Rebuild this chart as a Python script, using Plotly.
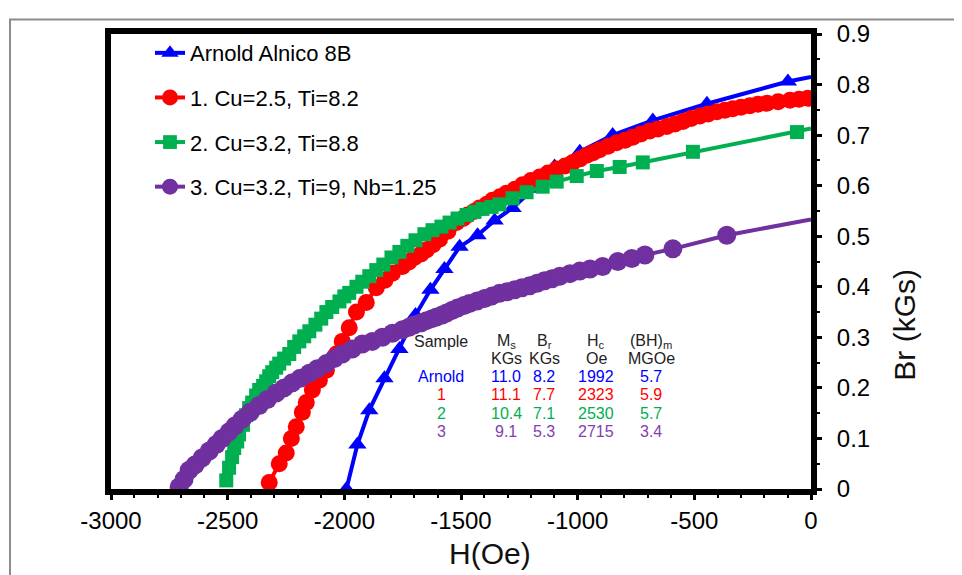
import plotly.graph_objects as go

# ---------------- data ----------------
arnold_h = [-1991, -1944, -1893, -1828, -1764, -1695, -1631, -1571, -1506, -1429, -1356, -1279,
            -1189, -1099, -991, -850, -678, -446, -99, 0]
arnold_br = [0.0, 0.088, 0.156, 0.219, 0.277, 0.344, 0.394, 0.435, 0.479, 0.502, 0.531, 0.556,
             0.594, 0.638, 0.667, 0.700, 0.729, 0.762, 0.806, 0.815]

s1_h = [-2322, -2279, -2249, -2227, -2206, -2180, -2163, -2137, -2107, -2077, -2034, -2009,
        -1979, -1948, -1906, -1863, -1826, -1794, -1751, -1723, -1700, -1671, -1648, -1620,
        -1592, -1556, -1519, -1491, -1472, -1444, -1421, -1389, -1365, -1333, -1305, -1269,
        -1236, -1200, -1163, -1127, -1090, -1054, -1021, -990, -961, -934, -906, -870, -833,
        -797, -764, -729, -691, -656, -618, -583, -549, -514, -476, -441, -403, -369, -335,
        -300, -262, -227, -189, -141, -90, -51, -13]
s1_br = [0.013, 0.050, 0.071, 0.100, 0.123, 0.152, 0.171, 0.196, 0.215, 0.235, 0.267, 0.292,
         0.319, 0.350, 0.369, 0.398, 0.413, 0.427, 0.440, 0.449, 0.458, 0.465, 0.473, 0.483,
         0.494, 0.510, 0.527, 0.535, 0.542, 0.549, 0.556, 0.563, 0.571, 0.578, 0.585, 0.593,
         0.602, 0.610, 0.617, 0.625, 0.633, 0.639, 0.646, 0.653, 0.660, 0.665, 0.671, 0.678, 0.685,
         0.690, 0.696, 0.702, 0.708, 0.712, 0.717, 0.722, 0.727, 0.733, 0.738, 0.742, 0.746, 0.749, 0.752,
         0.755, 0.758, 0.761, 0.763, 0.766, 0.769, 0.771, 0.773]

s2_h = [-2506, -2494, -2481, -2472, -2459, -2451, -2434, -2421, -2408, -2395, -2378, -2365,
        -2348, -2335, -2322, -2309, -2292, -2279, -2258, -2236, -2215, -2193, -2172, -2150,
        -2124, -2099, -2077, -2052, -2021, -2000, -1979, -1948, -1923, -1893, -1863, -1833,
        -1798, -1764, -1730, -1695, -1657, -1622, -1584, -1549, -1515, -1476, -1442, -1408,
        -1369, -1335, -1279, -1219, -1150, -1090, -1004, -918, -820, -721, -506, -60, 0]
s2_br = [0.017, 0.042, 0.063, 0.081, 0.094, 0.108, 0.127, 0.146, 0.160, 0.171, 0.185, 0.196,
         0.204, 0.213, 0.223, 0.231, 0.240, 0.248, 0.258, 0.267, 0.281, 0.292, 0.302, 0.312,
         0.325, 0.337, 0.350, 0.360, 0.371, 0.381, 0.388, 0.400, 0.410, 0.421, 0.433, 0.444,
         0.458, 0.469, 0.481, 0.492, 0.504, 0.512, 0.519, 0.527, 0.535, 0.542, 0.548, 0.554,
         0.558, 0.563, 0.575, 0.587, 0.598, 0.608, 0.619, 0.629, 0.637, 0.646, 0.667, 0.706, 0.713]

s3_h = [-2708, -2687, -2665, -2639, -2609, -2579, -2549, -2524, -2494, -2468, -2438, -2403,
        -2365, -2330, -2292, -2258, -2223, -2189, -2150, -2116, -2077, -2043, -2009, -1966,
        -1923, -1880, -1837, -1794, -1751, -1723, -1700, -1671, -1648, -1624, -1605, -1581,
        -1562, -1539, -1515, -1487, -1464, -1431, -1399, -1367, -1335, -1303, -1270, -1239,
        -1206, -1174, -1142, -1110, -1077, -1033, -991, -947, -893, -828, -768, -712, -592,
        -361, 0]
s3_br = [0.004, 0.019, 0.037, 0.048, 0.062, 0.075, 0.088, 0.100, 0.113, 0.125, 0.138, 0.152,
         0.165, 0.177, 0.190, 0.200, 0.210, 0.219, 0.229, 0.238, 0.248, 0.258, 0.267, 0.277,
         0.287, 0.292, 0.300, 0.308, 0.315, 0.320, 0.325, 0.329, 0.333, 0.337, 0.340, 0.344,
         0.348, 0.353, 0.358, 0.363, 0.367, 0.372, 0.377, 0.382, 0.387, 0.390, 0.394, 0.398,
         0.402, 0.407, 0.412, 0.416, 0.421, 0.426, 0.431, 0.435, 0.440, 0.450, 0.456, 0.463, 0.475,
         0.502, 0.533]

series_names = ["Arnold Alnico 8B", "1. Cu=2.5, Ti=8.2", "2. Cu=3.2, Ti=8.8",
                "3. Cu=3.2, Ti=9, Nb=1.25"]

x_tickvals = [-3000, -2500, -2000, -1500, -1000, -500, 0]
x_ticktext = ["-3000", "-2500", "-2000", "-1500", "-1000", "-500", "0"]
y_tickvals = [0, 0.1, 0.2, 0.3, 0.4, 0.5, 0.6, 0.7, 0.8, 0.9]
y_ticktext = ["0", "0.1", "0.2", "0.3", "0.4", "0.5", "0.6", "0.7", "0.8", "0.9"]

table_header1 = ["Sample", "M<sub>s</sub>", "B<sub>r</sub>", "H<sub>c</sub>", "(BH)<sub>m</sub>"]
table_header2 = ["", "KGs", "KGs", "Oe", "MGOe"]
table_samples = ["Arnold", "1", "2", "3"]
table_ms = ["11.0", "11.1", "10.4", "9.1"]
table_br = ["8.2", "7.7", "7.1", "5.3"]
table_hc = ["1992", "2323", "2530", "2715"]
table_bh = ["5.7", "5.9", "5.7", "3.4"]

# ---------------- style ----------------
BLUE, RED, GREEN, PURPLE = "#0000ff", "#ff0000", "#00b050", "#7030a0"
FONT = "Liberation Sans"

# page offset of the figure (default body margin) and page-pixel geometry of plot area
OFF = 8
L, R, T, B = 111, 811, 21, 489
W, H = 962 - OFF, 575 - OFF


def px(xp):
    return (xp - L) / (R - L)


def py(yp):
    return (B - yp) / (B - T)


fig = go.Figure()


def add(h, br, name, color, symbol, size, last_hidden, group):
    sizes = [size] * len(h)
    if last_hidden:
        sizes[-1] = 0
    fig.add_trace(go.Scatter(
        x=h, y=br, name=name, mode="lines+markers",
        line=dict(color=color, width=4),
        marker=dict(color=color, symbol=symbol, size=sizes, opacity=1, line=dict(width=0)),
        legendgroup=group,
    ))


add(arnold_h, arnold_br, series_names[0], BLUE, "triangle-up", 16, True, "a")
add(s1_h, s1_br, series_names[1], RED, "circle", 17, False, "b")
add(s2_h, s2_br, series_names[2], GREEN, "square", 14, True, "c")
add(s3_h, s3_br, series_names[3], PURPLE, "circle", 19, True, "d")

annotations = []
col_x = [441, 506, 544, 596, 651]
row_y = [337, 355, 373, 392, 411, 430]
hdr_color = "#222222"
for i, t in enumerate(table_header1):
    annotations.append(dict(x=px(col_x[i]), y=py(row_y[0]), text=t, showarrow=False,
                            xref="paper", yref="paper", xanchor="center", yanchor="middle",
                            font=dict(family=FONT, size=16, color=hdr_color)))
for i, t in enumerate(table_header2):
    if t:
        annotations.append(dict(x=px(col_x[i]), y=py(row_y[1]), text=t, showarrow=False,
                                xref="paper", yref="paper", xanchor="center", yanchor="middle",
                                font=dict(family=FONT, size=16, color=hdr_color)))
row_colors = [BLUE, RED, GREEN, "#8040b0"]
for r in range(4):
    vals = [table_samples[r], table_ms[r], table_br[r], table_hc[r], table_bh[r]]
    for i, t in enumerate(vals):
        annotations.append(dict(x=px(col_x[i]), y=py(row_y[r + 2]), text=t, showarrow=False,
                                xref="paper", yref="paper", xanchor="center", yanchor="middle",
                                font=dict(family=FONT, size=16, color=row_colors[r])))

# axis titles
annotations.append(dict(x=px(490), y=py(555), text="H(Oe)", showarrow=False,
                        xref="paper", yref="paper", xanchor="center", yanchor="middle",
                        font=dict(family=FONT, size=30, color="#111111")))
annotations.append(dict(x=px(905), y=py(320), text="Br (kGs)", showarrow=False, textangle=-90,
                        xref="paper", yref="paper", xanchor="center", yanchor="middle",
                        font=dict(family=FONT, size=30, color="#111111")))

shapes = [dict(type="rect", xref="paper", yref="paper",
               x0=px(10), x1=px(1000), y0=py(620), y1=py(6),
               line=dict(color="#8c8c8c", width=2), fillcolor="rgba(0,0,0,0)", layer="below")]

fig.update_layout(
    width=W, height=H,
    margin=dict(l=L - OFF, r=W - (R - OFF), t=T - OFF, b=H - (B - OFF), pad=0),
    paper_bgcolor="white", plot_bgcolor="white",
    font=dict(family=FONT, color="black"),
    showlegend=True,
    legend=dict(x=px(150), y=py(19), xanchor="left", yanchor="top",
                font=dict(family=FONT, size=22, color="black"),
                bgcolor="rgba(0,0,0,0)", traceorder="grouped", tracegroupgap=13,
                itemwidth=30),
    annotations=annotations,
    shapes=shapes,
    xaxis=dict(range=[-3000, 0], tickvals=x_tickvals, ticktext=x_ticktext,
               ticks="outside", ticklen=5, tickwidth=3, tickcolor="black",
               minor=dict(dtick=100, tick0=0, ticks="outside", ticklen=3, tickwidth=2,
                          tickcolor="black"),
               showline=True, linewidth=6, linecolor="black", mirror=True,
               showgrid=False, zeroline=False,
               tickfont=dict(family=FONT, size=24, color="black"), ticklabelstandoff=0),
    yaxis=dict(range=[0, 0.9], side="right", tickvals=y_tickvals, ticktext=y_ticktext,
               ticks="outside", ticklen=5, tickwidth=3, tickcolor="black",
               minor=dict(dtick=0.05, tick0=0, ticks="outside", ticklen=3, tickwidth=2,
                          tickcolor="black"),
               showline=True, linewidth=6, linecolor="black", mirror=True,
               showgrid=False, zeroline=False,
               tickfont=dict(family=FONT, size=24, color="black"), ticklabelstandoff=10),
)

fig.write_html("out.html")
